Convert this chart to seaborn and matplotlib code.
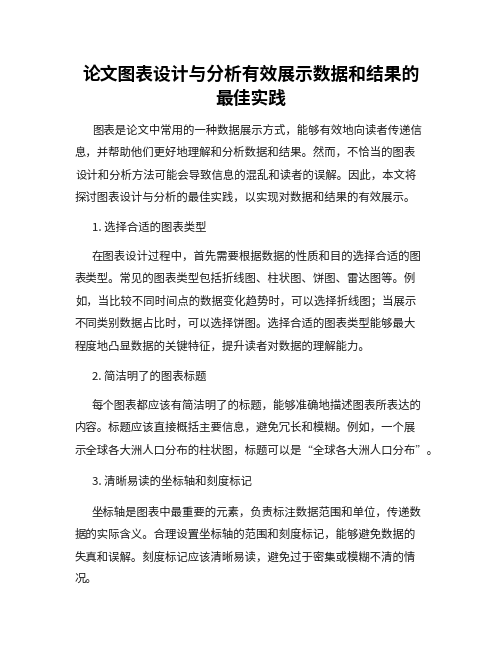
import matplotlib
matplotlib.use("Agg")
import matplotlib.pyplot as plt
import seaborn as sns

# page content
title_lines = ["论文图表设计与分析有效展示数据和结果的", "最佳实践"]

intro_lines = [
    "图表是论文中常用的一种数据展示方式，能够有效地向读者传递信",
    "息，并帮助他们更好地理解和分析数据和结果。然而，不恰当的图表",
    "设计和分析方法可能会导致信息的混乱和读者的误解。因此，本文将",
    "探讨图表设计与分析的最佳实践，以实现对数据和结果的有效展示。",
]

headings = [
    "1. 选择合适的图表类型",
    "2. 简洁明了的图表标题",
    "3. 清晰易读的坐标轴和刻度标记",
]

section_lines = [
    [
        "在图表设计过程中，首先需要根据数据的性质和目的选择合适的图",
        "表类型。常见的图表类型包括折线图、柱状图、饼图、雷达图等。例",
        "如，当比较不同时间点的数据变化趋势时，可以选择折线图；当展示",
        "不同类别数据占比时，可以选择饼图。选择合适的图表类型能够最大",
        "程度地凸显数据的关键特征，提升读者对数据的理解能力。",
    ],
    [
        "每个图表都应该有简洁明了的标题，能够准确地描述图表所表达的",
        "内容。标题应该直接概括主要信息，避免冗长和模糊。例如，一个展",
        "示全球各大洲人口分布的柱状图，标题可以是“全球各大洲人口分布”。",
    ],
    [
        "坐标轴是图表中最重要的元素，负责标注数据范围和单位，传递数",
        "据的实际含义。合理设置坐标轴的范围和刻度标记，能够避免数据的",
        "失真和误解。刻度标记应该清晰易读，避免过于密集或模糊不清的情",
        "况。",
    ],
]

sns.set_theme(style="white")
plt.rcParams["font.family"] = ["Noto Sans CJK SC", "DejaVu Sans"]

fig = plt.figure(figsize=(5.02, 6.49), dpi=100)
fig.patch.set_facecolor("white")
ax = fig.add_axes([0, 0, 1, 1])
ax.set_xlim(0, 502)
ax.set_ylim(649, 0)
ax.axis("off")

left = 75
indent = 92
line_gap = 22.4
body_size = 8.2
body_color = "#1a1a1a"

# title
ax.text(251, 75, title_lines[0], ha="center", va="center",
        fontsize=12.8, fontweight="bold", color="black")
ax.text(251, 99, title_lines[1], ha="center", va="center",
        fontsize=12.8, fontweight="bold", color="black")


def draw_paragraph(lines, y0):
    for i, line in enumerate(lines):
        x = indent if i == 0 else left
        ax.text(x, y0 + i * line_gap, line, ha="left", va="center",
                fontsize=body_size, color=body_color)


draw_paragraph(intro_lines, 130)

heading_y = [227, 376, 481]
para_y = [256, 405, 512]
for head, hy, lines, py in zip(headings, heading_y, section_lines, para_y):
    ax.text(indent, hy, head, ha="left", va="center",
            fontsize=body_size, color=body_color)
    draw_paragraph(lines, py)

fig.savefig("out.png", dpi=100, facecolor="white")
